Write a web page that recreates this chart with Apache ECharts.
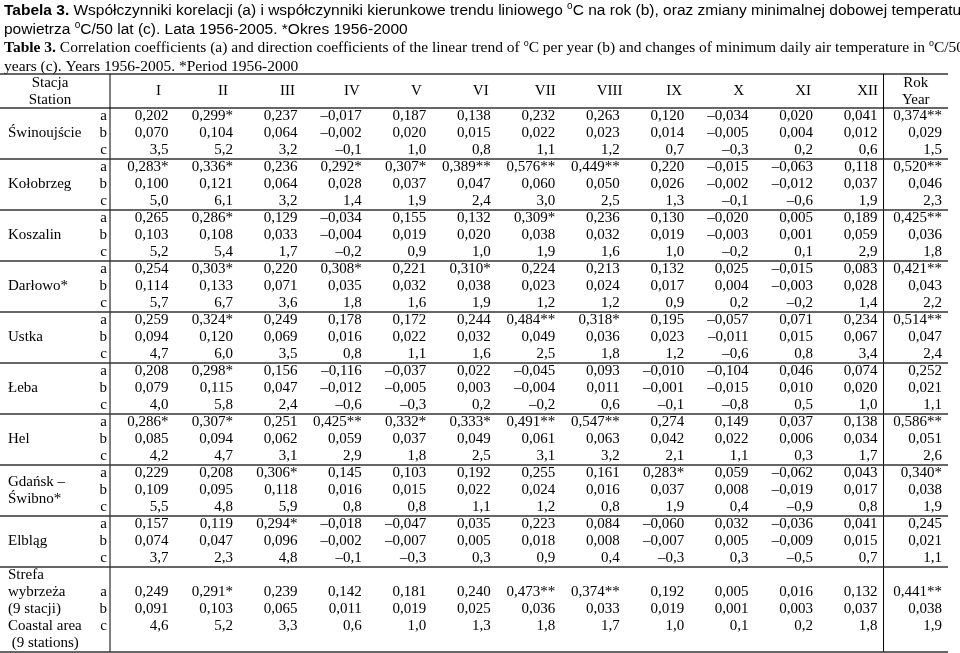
<!DOCTYPE html>
<html><head><meta charset="utf-8">
<script src="https://cdn.jsdelivr.net/npm/echarts@6/dist/echarts.min.js"></script>
<style>html,body{margin:0;padding:0;background:#fff}#c{width:960px;height:653px}</style>
</head><body><div id="c"></div>
<script>
const chart = echarts.init(document.getElementById("c"));
const COLUMNS = ["I","II","III","IV","V","VI","VII","VIII","IX","X","XI","XII","Rok"];
const STATIONS = ["Świnoujście","Kołobrzeg","Koszalin","Darłowo*","Ustka","Łeba","Hel","Gdańsk –\nŚwibno*","Elbląg"];
const COASTAL_LABEL = ["Strefa","wybrzeża","(9 stacji)","Coastal area"," (9 stations)"];
const ROW_KEYS = ["a","b","c"];
// one entry per station: [a row, b row, c row], 12 months + year
const VALUES = [
  [["0,202","0,299*","0,237","–0,017","0,187","0,138","0,232","0,263","0,120","–0,034","0,020","0,041","0,374**"],
   ["0,070","0,104","0,064","–0,002","0,020","0,015","0,022","0,023","0,014","–0,005","0,004","0,012","0,029"],
   ["3,5","5,2","3,2","–0,1","1,0","0,8","1,1","1,2","0,7","–0,3","0,2","0,6","1,5"]],
  [["0,283*","0,336*","0,236","0,292*","0,307*","0,389**","0,576**","0,449**","0,220","–0,015","–0,063","0,118","0,520**"],
   ["0,100","0,121","0,064","0,028","0,037","0,047","0,060","0,050","0,026","–0,002","–0,012","0,037","0,046"],
   ["5,0","6,1","3,2","1,4","1,9","2,4","3,0","2,5","1,3","–0,1","–0,6","1,9","2,3"]],
  [["0,265","0,286*","0,129","–0,034","0,155","0,132","0,309*","0,236","0,130","–0,020","0,005","0,189","0,425**"],
   ["0,103","0,108","0,033","–0,004","0,019","0,020","0,038","0,032","0,019","–0,003","0,001","0,059","0,036"],
   ["5,2","5,4","1,7","–0,2","0,9","1,0","1,9","1,6","1,0","–0,2","0,1","2,9","1,8"]],
  [["0,254","0,303*","0,220","0,308*","0,221","0,310*","0,224","0,213","0,132","0,025","–0,015","0,083","0,421**"],
   ["0,114","0,133","0,071","0,035","0,032","0,038","0,023","0,024","0,017","0,004","–0,003","0,028","0,043"],
   ["5,7","6,7","3,6","1,8","1,6","1,9","1,2","1,2","0,9","0,2","–0,2","1,4","2,2"]],
  [["0,259","0,324*","0,249","0,178","0,172","0,244","0,484**","0,318*","0,195","–0,057","0,071","0,234","0,514**"],
   ["0,094","0,120","0,069","0,016","0,022","0,032","0,049","0,036","0,023","–0,011","0,015","0,067","0,047"],
   ["4,7","6,0","3,5","0,8","1,1","1,6","2,5","1,8","1,2","–0,6","0,8","3,4","2,4"]],
  [["0,208","0,298*","0,156","–0,116","–0,037","0,022","–0,045","0,093","–0,010","–0,104","0,046","0,074","0,252"],
   ["0,079","0,115","0,047","–0,012","–0,005","0,003","–0,004","0,011","–0,001","–0,015","0,010","0,020","0,021"],
   ["4,0","5,8","2,4","–0,6","–0,3","0,2","–0,2","0,6","–0,1","–0,8","0,5","1,0","1,1"]],
  [["0,286*","0,307*","0,251","0,425**","0,332*","0,333*","0,491**","0,547**","0,274","0,149","0,037","0,138","0,586**"],
   ["0,085","0,094","0,062","0,059","0,037","0,049","0,061","0,063","0,042","0,022","0,006","0,034","0,051"],
   ["4,2","4,7","3,1","2,9","1,8","2,5","3,1","3,2","2,1","1,1","0,3","1,7","2,6"]],
  [["0,229","0,208","0,306*","0,145","0,103","0,192","0,255","0,161","0,283*","0,059","–0,062","0,043","0,340*"],
   ["0,109","0,095","0,118","0,016","0,015","0,022","0,024","0,016","0,037","0,008","–0,019","0,017","0,038"],
   ["5,5","4,8","5,9","0,8","0,8","1,1","1,2","0,8","1,9","0,4","–0,9","0,8","1,9"]],
  [["0,157","0,119","0,294*","–0,018","–0,047","0,035","0,223","0,084","–0,060","0,032","–0,036","0,041","0,245"],
   ["0,074","0,047","0,096","–0,002","–0,007","0,005","0,018","0,008","–0,007","0,005","–0,009","0,015","0,021"],
   ["3,7","2,3","4,8","–0,1","–0,3","0,3","0,9","0,4","–0,3","0,3","–0,5","0,7","1,1"]]
];
const COASTAL = [
  ["0,249","0,291*","0,239","0,142","0,181","0,240","0,473**","0,374**","0,192","0,005","0,016","0,132","0,441**"],
  ["0,091","0,103","0,065","0,011","0,019","0,025","0,036","0,033","0,019","0,001","0,003","0,037","0,038"],
  ["4,6","5,2","3,3","0,6","1,0","1,3","1,8","1,7","1,0","0,1","0,2","1,8","1,9"]
];

// y axis in row units: header = 2 rows, each station 3 rows, coastal block 5 rows
const HEADER_ROWS = 2, COASTAL_ROWS = 5;
const TOTAL_ROWS = HEADER_ROWS + STATIONS.length * 3 + COASTAL_ROWS;
const SERIF = "'Liberation Serif', 'DejaVu Serif', serif";
const SANS = "'Liberation Sans', Arial, sans-serif";
const FS = 15;

// cell records: [colIndex, rowCenter, text]
const cells = [];
const stationLabels = [];
const keyLabels = [];
const hLines = [[0, HEADER_ROWS]];
STATIONS.forEach((name, s) => {
  const top = HEADER_ROWS + s * 3;
  stationLabels.push([0, top + 1.5, name]);
  ROW_KEYS.forEach((k, r) => {
    keyLabels.push([0, top + r + 0.5, k]);
    VALUES[s][r].forEach((v, c) => cells.push([c, top + r + 0.5, v]));
  });
  hLines.push([0, top + 3]);
});
const cTop = HEADER_ROWS + STATIONS.length * 3;
COASTAL_LABEL.forEach((t, i) => stationLabels.push([0, cTop + i + 0.5, t]));
ROW_KEYS.forEach((k, r) => {
  keyLabels.push([0, cTop + 1.5 + r, k]);
  COASTAL[r].forEach((v, c) => cells.push([c, cTop + 1.5 + r, v]));
});
hLines.push([0, TOTAL_ROWS]);

function txt(x, y, text, align, extra) {
  return { type: "text", x, y, style: Object.assign({ text, textAlign: align, textVerticalAlign: "middle",
    font: FS + "px " + SERIF, fill: "#000" }, extra || {}) };
}

chart.setOption({
  animation: false,
  grid: { left: 110, right: 12, top: 74, bottom: 1 },
  xAxis: { type: "category", data: COLUMNS, show: false },
  yAxis: { type: "value", inverse: true, min: 0, max: TOTAL_ROWS, show: false },
  graphic: [
    { type: "text", left: 4, top: 1, style: { rich: { b: { fontWeight: "bold", fontSize: 15.5, fontFamily: SANS }, n: { fontSize: 15.5, fontFamily: SANS }, s: { fontSize: 10, fontFamily: SANS, padding: [0, 0, 8, 0] } },
      text: "{b|Tabela 3.}{n| Współczynniki korelacji (a) i współczynniki kierunkowe trendu liniowego }{s|o}{n|C na rok (b), oraz zmiany minimalnej dobowej temperatury}\n{n|powietrza }{s|o}{n|C/50 lat (c). Lata 1956-2005. *Okres 1956-2000}", lineHeight: 19 } },
    { type: "text", left: 4, top: 38, style: { rich: { b: { fontWeight: "bold", fontSize: 15.5, fontFamily: SERIF }, n: { fontSize: 15.5, fontFamily: SERIF }, s: { fontSize: 10, fontFamily: SERIF, padding: [0, 0, 8, 0] } },
      text: "{b|Table 3.}{n| Correlation coefficients (a) and direction coefficients of the linear trend of }{s|o}{n|C per year (b) and changes of minimum daily air temperature in }{s|o}{n|C/50}\n{n|years (c). Years 1956-2005. *Period 1956-2000}", lineHeight: 19 } }
  ],
  series: [
    { // table values
      type: "custom", data: cells, silent: true,
      renderItem: (p, api) => {
        const pt = api.coord([api.value(0), api.value(1)]);
        const w = api.size([1, 0])[0];
        return txt(pt[0] + w / 2 - 6, pt[1], cells[p.dataIndex][2], "right");
      }
    },
    { // station names
      type: "custom", data: stationLabels, silent: true,
      renderItem: (p, api) => {
        const pt = api.coord([0, api.value(1)]);
        return txt(8, pt[1], stationLabels[p.dataIndex][2], "left", { lineHeight: 17 });
      }
    },
    { // a / b / c keys
      type: "custom", data: keyLabels, silent: true,
      renderItem: (p, api) => {
        const pt = api.coord([0, api.value(1)]);
        return txt(107, pt[1], keyLabels[p.dataIndex][2], "right");
      }
    },
    { // header + rule lines
      type: "custom", data: hLines, silent: true,
      renderItem: (p, api) => {
        const cs = p.coordSys;
        const y = api.coord([0, api.value(1)])[1];
        const children = [{ type: "line", shape: { x1: 0, y1: y, x2: cs.x + cs.width, y2: y },
          style: { stroke: "#333", lineWidth: 1.3 } }];
        if (p.dataIndex === 0) {
          const top = cs.y;
          const yearX = api.coord([COLUMNS.length - 1, 0])[0] - api.size([1, 0])[0] / 2;
          children.push({ type: "line", shape: { x1: 0, y1: top, x2: cs.x + cs.width, y2: top }, style: { stroke: "#333", lineWidth: 1.5 } });
          children.push({ type: "line", shape: { x1: cs.x, y1: top, x2: cs.x, y2: cs.y + cs.height }, style: { stroke: "#000", lineWidth: 1 } });
          children.push({ type: "line", shape: { x1: yearX, y1: top, x2: yearX, y2: cs.y + cs.height }, style: { stroke: "#000", lineWidth: 1 } });
          children.push(txt(50, top + 9, "Stacja", "center"));
          children.push(txt(50, top + 26, "Station", "center"));
          COLUMNS.forEach((c, i) => {
            const pt = api.coord([i, 1]);
            const w = api.size([1, 0])[0];
            if (i === COLUMNS.length - 1) {
              children.push(txt(pt[0], top + 9, "Rok", "center"));
              children.push(txt(pt[0], top + 26, "Year", "center"));
            } else {
              children.push(txt(pt[0] + w / 2 - 16, pt[1], c, "center"));
            }
          });
        }
        return { type: "group", children };
      }
    }
  ]
});
</script></body></html>
